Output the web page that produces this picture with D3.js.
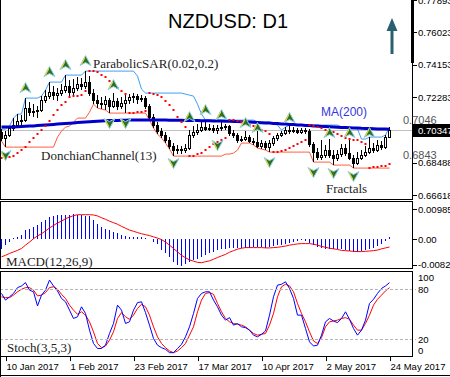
<!DOCTYPE html>
<html><head><meta charset="utf-8">
<script src="https://cdn.jsdelivr.net/npm/d3@7"></script>
<style>body{margin:0;background:#fff}svg{display:block}</style>
</head><body><svg id="c" width="450" height="377"></svg>
<script>
// ---------- DATA (NZDUSD daily, 9 Jan 2017 .. 24 May 2017) ----------
const open=[.70254,.69908,.70081,.70486,.70659,.70890,.70948,.71642,.71410,.71468,
.71526,.72104,.72335,.72566,.72393,.72509,.72682,.72913,.72566,.72798,
.73029,.72913,.73144,.72509,.72104,.71931,.71873,.72104,.71757,.72046,
.71757,.71931,.72104,.72277,.72335,.72162,.72220,.71757,.71121,.70659,
.70312,.70081,.69792,.69445,.69214,.69272,.69214,.69330,.70081,.70254,
.70370,.70543,.70428,.70486,.70370,.70486,.70543,.70601,.70197,.70081,
.69792,.69850,.69965,.69734,.69676,.69445,.69619,.69387,.69619,.69908,
.70081,.70197,.70370,.70312,.70370,.70254,.70370,.70312,.69561,.69098,
.68809,.68925,.69214,.68925,.68752,.68983,.69330,.69041,.68752,.68463,
.68752,.68925,.69098,.69330,.69214,.69503,.69387,.69965];
const close=[.69908,.70081,.70486,.70659,.70890,.70948,.71642,.71410,.71468,.71526,
.72104,.72335,.72566,.72393,.72509,.72682,.72913,.72566,.72798,.73029,
.72913,.73144,.72509,.72104,.71931,.71873,.72104,.71757,.72046,.71757,
.71931,.72104,.72277,.72335,.72162,.72220,.71757,.71121,.70659,.70312,
.70081,.69792,.69445,.69214,.69272,.69214,.69330,.70081,.70254,.70370,
.70543,.70428,.70486,.70370,.70486,.70543,.70601,.70197,.70081,.69792,
.69850,.69965,.69734,.69676,.69445,.69619,.69387,.69619,.69908,.70081,
.70197,.70370,.70312,.70370,.70254,.70370,.70312,.69561,.69098,.68809,
.68925,.69214,.68925,.68752,.68983,.69330,.69041,.68752,.68463,.68752,
.68925,.69098,.69330,.69214,.69503,.69387,.69965,.70347];
const high=[.70428,.70312,.70601,.71064,.71295,.71237,.72220,.71988,.71873,.71757,
.72335,.72682,.73144,.72913,.72798,.73029,.73549,.73260,.73318,.73433,
.73376,.73780,.73491,.72740,.72393,.72277,.72335,.72220,.72509,.72220,
.72277,.72393,.72451,.72509,.72451,.72393,.72335,.71873,.71295,.70832,
.70486,.70254,.69965,.69619,.69503,.69445,.69561,.70370,.70601,.70717,
.70832,.70948,.70717,.70659,.70659,.70832,.70717,.70659,.70370,.70197,
.70023,.70312,.70081,.69908,.70312,.69792,.69734,.69792,.70023,.70197,
.70312,.70543,.70659,.70543,.70486,.70486,.70486,.70428,.69676,.69330,
.69792,.69503,.69850,.69214,.69214,.69561,.69561,.69792,.68925,.69098,
.69214,.69445,.69965,.69619,.69792,.69734,.70081,.70543];
const low=[.69734,.69387,.69965,.70312,.70543,.70601,.70832,.71179,.71121,.71064,
.71410,.71931,.72162,.72104,.72046,.72335,.72509,.72335,.72393,.72624,
.72682,.72740,.72335,.71873,.71642,.71584,.71526,.71353,.71642,.71526,
.71584,.71353,.71873,.71931,.71873,.71988,.71584,.70948,.70486,.70139,
.69908,.69619,.69272,.68867,.68983,.68983,.69041,.69214,.69908,.70081,
.70254,.70312,.70312,.70197,.70139,.70312,.70370,.70023,.69908,.69619,
.69676,.69734,.69619,.69503,.69330,.69272,.69214,.69098,.69445,.69734,
.69965,.70081,.70139,.70197,.70139,.70139,.70139,.69387,.68520,.68636,
.68636,.68752,.68752,.68347,.68578,.68809,.68867,.68636,.68174,.68347,
.68636,.68809,.68983,.69041,.69098,.69214,.69272,.69908];
const ma200=[.70543,.70543,.70549,.70555,.70567,.70578,.70590,.70601,.70613,.70630,
.70647,.70665,.70682,.70699,.70717,.70734,.70751,.70769,.70786,.70804,
.70821,.70838,.70856,.70873,.70884,.70896,.70908,.70919,.70925,.70931,
.70936,.70942,.70948,.70948,.70954,.70954,.70954,.70954,.70954,.70948,
.70948,.70948,.70942,.70942,.70936,.70936,.70931,.70931,.70925,.70919,
.70913,.70913,.70908,.70902,.70896,.70890,.70884,.70879,.70873,.70861,
.70856,.70844,.70832,.70821,.70809,.70798,.70786,.70775,.70757,.70746,
.70728,.70717,.70699,.70688,.70671,.70659,.70642,.70630,.70613,.70601,
.70584,.70572,.70561,.70549,.70538,.70526,.70515,.70503,.70491,.70486,
.70474,.70468,.70457,.70451,.70439,.70434,.70428,.70422];
const sarStart=0.6875;
const fractalUp=[[6,.72798],[12,.73722],[16,.74127],[21,.74358],[28,.72971],[47,.71121],[51,.71526],[55,.71237],[61,.70774],[64,.70486],[72,.71064],[82,.70197],[87,.70197],[92,.70197]];
const fractalDown=[[1,.68925],[27,.70774],[31,.70774],[43,.68463],[54,.69503],[67,.68520],[78,.67942],[83,.67885],[88,.67711]];
const macdMain=[-0.0030,-0.0019,-0.0009,0.0004,0.0008,0.0013,0.0029,0.0035,0.0040,0.0045,
0.0056,0.0062,0.0072,0.0076,0.0080,0.0080,0.0080,0.0078,0.0081,0.0080,
0.0080,0.0076,0.0076,0.0062,0.0051,0.0040,0.0035,0.0029,0.0024,0.0021,
0.0013,0.0011,0.0009,0.0009,0.0009,0.0008,0.0004,0.0001,-0.0009,-0.0014,
-0.0036,-0.0046,-0.0057,-0.0073,-0.0084,-0.0086,-0.0079,-0.0073,-0.0068,-0.0063,
-0.0057,-0.0050,-0.0046,-0.0041,-0.0036,-0.0032,-0.0030,-0.0028,-0.0028,-0.0027,
-0.0028,-0.0027,-0.0027,-0.0025,-0.0026,-0.0026,-0.0027,-0.0025,-0.0022,-0.0019,
-0.0017,-0.0014,-0.0011,-0.0009,-0.0006,-0.0003,-0.0006,-0.0011,-0.0017,-0.0025,
-0.0028,-0.0030,-0.0032,-0.0033,-0.0033,-0.0033,-0.0036,-0.0039,-0.0041,-0.0041,
-0.0039,-0.0036,-0.0032,-0.0028,-0.0022,-0.0014,-0.0006,0.0008];
const macdSignal=[-0.0057,-0.0052,-0.0046,-0.0041,-0.0036,-0.0030,-0.0019,-0.0009,0.0002,0.0011,
0.0018,0.0027,0.0037,0.0045,0.0053,0.0059,0.0067,0.0072,0.0077,0.0080,
0.0080,0.0080,0.0080,0.0079,0.0076,0.0070,0.0065,0.0059,0.0054,0.0049,
0.0042,0.0036,0.0030,0.0026,0.0022,0.0018,0.0015,0.0012,0.0008,0.0004,
-0.0001,-0.0009,-0.0019,-0.0030,-0.0041,-0.0052,-0.0060,-0.0067,-0.0071,-0.0075,
-0.0076,-0.0073,-0.0070,-0.0065,-0.0059,-0.0054,-0.0049,-0.0042,-0.0037,-0.0032,
-0.0029,-0.0027,-0.0027,-0.0027,-0.0027,-0.0027,-0.0028,-0.0028,-0.0027,-0.0026,
-0.0024,-0.0022,-0.0019,-0.0017,-0.0015,-0.0014,-0.0014,-0.0014,-0.0016,-0.0019,
-0.0023,-0.0026,-0.0029,-0.0031,-0.0033,-0.0036,-0.0037,-0.0038,-0.0039,-0.0040,
-0.0040,-0.0039,-0.0038,-0.0037,-0.0035,-0.0031,-0.0028,-0.0025];
const stochK=[75,67,71,75,82,84,88,79,77,60,73,79,91,84,78,69,65,55,45,47,
59,51,31,15,9,9,13,27,39,61,55,39,41,55,64,65,52,37,21,13,
10,8,4,4,9,14,23,35,51,69,75,77,77,67,59,49,43,46,37,39,
35,34,31,25,23,26,30,49,71,85,86,89,81,69,49,49,33,17,12,13,
25,41,45,42,40,45,53,44,33,25,31,43,63,68,75,81,84,88];
const stochD=[71,70,70,73,77,80,82,82,79,72,73,76,82,83,80,74,69,61,55,50,
53,49,41,29,15,10,12,19,29,45,52,47,44,49,57,62,59,49,35,23,
15,10,6,4,6,10,15,25,35,53,67,75,76,74,63,53,45,41,39,38,
37,35,31,27,25,26,27,37,51,71,83,86,84,77,63,51,41,29,18,15,
22,35,41,42,43,45,46,44,37,31,31,39,49,61,68,73,78,82];
const dateTicks=[1,17,33,49,65,81,97];
const dateLabels=["10 Jan 2017","1 Feb 2017","23 Feb 2017","17 Mar 2017","10 Apr 2017","2 May 2017","24 May 2017"];
const priceTicks=[0.77893,0.76023,0.74153,0.72283,0.68488,0.66618];
const macdTicks=[0.00985,0,-0.00821];
const macdTickLabels=["0.00985","0.00","-0.00821"];
const stochLevels=[80,20];
const stochLabels=[100,80,20,0];
const lastPrice=0.70347;
const sideLabels=[["0.7046",0.7046],["0.6843",0.6843]];

// ---------- CHART ----------
const svg=d3.select("#c");
const n=close.length;
const PR=412; // plot right edge
const x=d3.scaleLinear().domain([0,n-1]).range([1,389]);
const y=d3.scaleLinear().domain([0.66618,0.76023]).range([195,32.3]);
const ym=d3.scaleLinear().domain([0,0.00985]).range([239.3,209]);
const ys=d3.scaleLinear().domain([0,100]).range([356,272.6]);
const sans="'Liberation Sans',Arial,sans-serif", serif="'Liberation Serif','Times New Roman',serif";
const axFont=9.6;

const defs=svg.append("defs");
function clip(id,y0,y1){defs.append("clipPath").attr("id",id).append("rect").attr("x",0).attr("y",y0).attr("width",PR).attr("height",y1-y0);}
clip("cm",0,199);clip("cd",202,268);clip("cs",272,356);

// main panel
const gm=svg.append("g").attr("clip-path","url(#cm)");
gm.append("line").attr("x1",0).attr("x2",PR).attr("y1",Math.round(y(lastPrice))+0.5).attr("y2",Math.round(y(lastPrice))+0.5).attr("stroke","#c0c0c0");

// Donchian channel (13)
const dUp=close.map((_,i)=>d3.max(high.slice(Math.max(0,i-12),i+1)));
const dLo=close.map((_,i)=>d3.min(low.slice(Math.max(0,i-12),i+1)));
const ln=d3.line().x((d,i)=>x(i)+0.5);
gm.append("path").attr("d",ln.y(d=>y(d))(dUp)).attr("fill","none").attr("stroke","#3d9df5").attr("stroke-width",1);
gm.append("path").attr("d",ln.y(d=>y(d))(dLo)).attr("fill","none").attr("stroke","#ff5a3c").attr("stroke-width",1);

// candles
const gc=gm.append("g").attr("shape-rendering","crispEdges");
close.forEach((c,i)=>{
  const cx=Math.round(x(i)), o=open[i];
  gc.append("line").attr("x1",cx+0.5).attr("x2",cx+0.5).attr("y1",y(high[i])).attr("y2",y(low[i])).attr("stroke","#000");
  const t=Math.round(y(Math.max(o,c))), b=Math.round(y(Math.min(o,c)));
  gc.append("rect").attr("x",cx-0.5).attr("y",t+0.5).attr("width",2).attr("height",Math.max(0,b-t))
    .attr("fill",c>=o?"#fff":"#000").attr("stroke","#000");
});

// MA(200)
gm.append("path").attr("d",ln.y(d=>y(d))(ma200)).attr("fill","none").attr("stroke","#0000c8").attr("stroke-width",3);

// Parabolic SAR (0.02,0.2)
const sar=[];{let up=true,af=0.02,ep=high[0],s=sarStart;sar.push(s);
 for(let i=1;i<n;i++){s=s+af*(ep-s);
  if(up){s=Math.min(s,low[i-1],low[Math.max(0,i-2)]);
    if(low[i]<s){up=false;s=ep;ep=low[i];af=0.02;}else if(high[i]>ep){ep=high[i];af=Math.min(af+0.02,0.2);}}
  else{s=Math.max(s,high[i-1],high[Math.max(0,i-2)]);
    if(high[i]>s){up=true;s=ep;ep=high[i];af=0.02;}else if(low[i]<ep){ep=low[i];af=Math.min(af+0.02,0.2);}}
  sar.push(s);}}
gm.append("g").selectAll("rect").data(sar).join("rect").attr("x",(d,i)=>Math.round(x(i))-0.5).attr("y",d=>Math.round(y(d))-1)
  .attr("width",2).attr("height",2).attr("fill","#ff0000");

// fractals
function frac(list,upDir){
  list.forEach(([i,p])=>{
    const g=gm.append("g").attr("transform",`translate(${Math.round(x(i))+0.5},${y(p)}) scale(1,${upDir?1:-1})`);
    g.append("path").attr("d","M0,-5.5L5.5,4.5L0,1.5L-5.5,4.5Z").attr("fill","#2f6f1e").attr("stroke","#8fd3ea").attr("stroke-width",1);
    g.append("path").attr("d","M-0.6,-3.6L-4.2,3.4").attr("stroke","#e8d640").attr("stroke-width",1.1);
  });
}
frac(fractalUp,true);frac(fractalDown,false);

// MACD panel
const gd=svg.append("g").attr("clip-path","url(#cd)");
gd.append("g").attr("shape-rendering","crispEdges").selectAll("line").data(macdMain).join("line")
  .attr("x1",(d,i)=>Math.round(x(i))+0.5).attr("x2",(d,i)=>Math.round(x(i))+0.5)
  .attr("y1",ym(0)).attr("y2",d=>ym(d)).attr("stroke","#0000ff");
gd.append("path").attr("d",ln.y(d=>ym(d))(macdSignal)).attr("fill","none").attr("stroke","#ff0000").attr("stroke-width",1);

// Stoch panel
const gs=svg.append("g").attr("clip-path","url(#cs)");
stochLevels.forEach(v=>svg.append("line").attr("x1",0).attr("x2",PR+4).attr("y1",Math.round(ys(v))+0.5).attr("y2",Math.round(ys(v))+0.5)
  .attr("stroke","#b4b4b4").attr("stroke-dasharray","3,2"));
gs.append("path").attr("d",ln.y(d=>ys(d))(stochD)).attr("fill","none").attr("stroke","#ff0000");
gs.append("path").attr("d",ln.y(d=>ys(d))(stochK)).attr("fill","none").attr("stroke","#0000ff");

// panel frames
const fr=svg.append("g").attr("fill","none").attr("stroke","#000").attr("shape-rendering","crispEdges");
fr.append("rect").attr("x",0.5).attr("y",-1).attr("width",PR).attr("height",200.5);
fr.append("rect").attr("x",0.5).attr("y",201.5).attr("width",PR).attr("height",67);
fr.append("rect").attr("x",0.5).attr("y",271.5).attr("width",PR).attr("height",85);
fr.append("line").attr("x1",0.5).attr("x2",0.5).attr("y1",356).attr("y2",377);
fr.append("line").attr("x1",0).attr("x2",450).attr("y1",375.5).attr("y2",375.5);
svg.append("rect").attr("x",411).attr("y",0).attr("width",3).attr("height",63).attr("fill","#000");

// axes
function styleAxis(g,size){g.select(".domain").remove();g.selectAll("text").attr("font-family",sans).attr("font-size",size).attr("fill","#000");g.selectAll("line").attr("stroke","#000");}
svg.append("g").attr("transform",`translate(${PR+0.5},0)`).attr("shape-rendering","crispEdges")
  .call(d3.axisRight(y).tickValues(priceTicks).tickSize(4).tickPadding(1.5).tickFormat(d3.format(".5f"))).call(g=>styleAxis(g,axFont));
svg.append("g").attr("transform",`translate(${PR+0.5},0)`).attr("shape-rendering","crispEdges")
  .call(d3.axisRight(ym).tickValues(macdTicks).tickSize(4).tickPadding(1.5).tickFormat((d,i)=>macdTickLabels[i])).call(g=>styleAxis(g,axFont));
svg.append("g").attr("transform",`translate(${PR+0.5},0)`).attr("shape-rendering","crispEdges")
  .call(d3.axisRight(ys).tickValues(stochLabels).tickSize(0).tickPadding(5.5).tickFormat(d3.format("d"))).call(g=>{styleAxis(g,axFont);
     g.selectAll(".tick text").attr("dy",d=>d===100?"0.85em":d===0?"-0.25em":"0.32em");});
svg.append("g").attr("transform","translate(0,356.5)").attr("shape-rendering","crispEdges")
  .call(d3.axisBottom(x).tickValues(dateTicks).tickSize(4).tickPadding(3).tickFormat((d,i)=>dateLabels[i]))
  .call(g=>{styleAxis(g,9.5);g.selectAll(".tick line").attr("transform","translate(0.5,0)");g.selectAll(".tick text").attr("text-anchor","start").attr("x",1);});

// last price box
const ly=y(lastPrice);
svg.append("rect").attr("x",413).attr("y",Math.round(ly)-6).attr("width",37).attr("height",13).attr("fill","#000");
svg.append("text").attr("x",418).attr("y",Math.round(ly)+4).attr("font-family",sans).attr("font-size",axFont).attr("fill","#fff").text(d3.format(".5f")(lastPrice));
sideLabels.forEach(([t,v])=>svg.append("text").attr("x",403).attr("y",y(v)-5).attr("font-family",sans).attr("font-size",11).attr("fill","#555").text(t));

// texts
svg.append("text").attr("x",168).attr("y",28).attr("font-family",sans).attr("font-size",20).text("NZDUSD: D1");
svg.append("text").attr("x",93).attr("y",68).attr("font-family",serif).attr("font-size",13).attr("fill","#222").text("ParabolicSAR(0.02,0.2)");
svg.append("text").attr("x",41).attr("y",160).attr("font-family",serif).attr("font-size",13).attr("fill","#222").text("DonchianChannel(13)");
svg.append("text").attr("x",326).attr("y",193).attr("font-family",serif).attr("font-size",13).attr("fill","#222").text("Fractals");
svg.append("text").attr("x",321).attr("y",116).attr("font-family",sans).attr("font-size",12).attr("fill","#3535e0").text("MA(200)");
svg.append("text").attr("x",6).attr("y",266).attr("font-family",serif).attr("font-size",13).attr("fill","#222").text("MACD(12,26,9)");
svg.append("text").attr("x",7).attr("y",352).attr("font-family",serif).attr("font-size",13).attr("fill","#222").text("Stoch(3,5,3)");

// trend arrow
svg.append("path").attr("d","M392,18L397.5,31L393.5,31L393.5,54L390.5,54L390.5,31L386.5,31Z").attr("fill","#2b6070");
</script></body></html>
